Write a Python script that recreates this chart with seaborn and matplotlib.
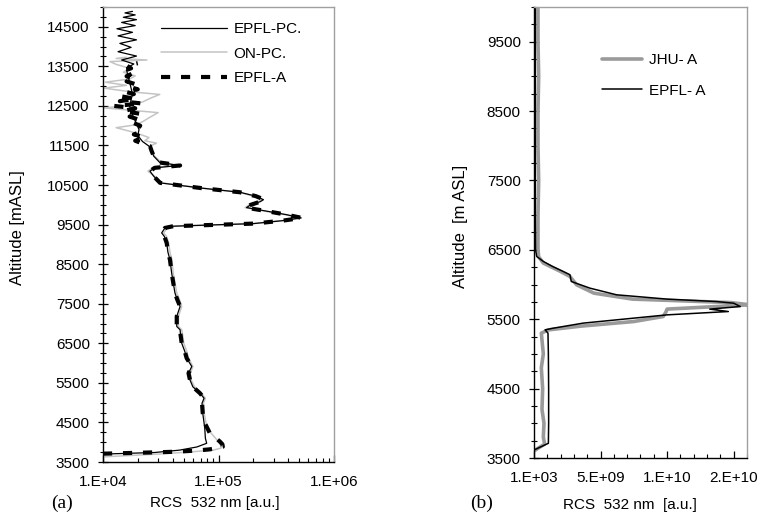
import numpy as np
import pandas as pd
import matplotlib
matplotlib.use("Agg")
import matplotlib.pyplot as plt
from matplotlib.ticker import MultipleLocator, LogLocator, FixedLocator, FixedFormatter, NullFormatter
import seaborn as sns

# ---------------- data: panel (a) ----------------
alt_epfl_a = [3710, 3740, 3760, 3790, 3820, 3860, 3887, 3950, 4014, 4234, 4487, 4740,
              4985, 5112, 5240, 5400, 5576, 5745, 5914, 6125, 6300, 6505, 6700, 6842,
              6926, 7180, 7432, 7600, 7770, 8024, 8277, 8614, 8800, 9037, 9200, 9290,
              9416, 9460, 9525, 9600, 9669, 9750, 9850, 9930, 10000, 10080, 10130,
              10220, 10318, 10427, 10555, 10650, 10722, 10850, 10935, 10995, 11070,
              11230, 11355, 11483,
              11550, 11620, 11700, 11780, 11850, 11930, 12000, 12080, 12150, 12230,
              12300, 12370, 12440, 12500, 12560, 12620, 12680, 12740, 12800, 12860,
              12920, 12980, 13050, 13120, 13180, 13250, 13320, 13400, 13450, 13520, 13580]
rcs_epfl_a = [1.0e4, 2.5e4, 4.35e4, 6.5e4, 8.4e4, 1.0e5, 1.09e5, 1.08e5, 1.03e5, 8.4e4, 7.6e4, 7.3e4,
              7.2e4, 7.5e4, 6.9e4, 6.0e4, 5.66e4, 5.5e4, 5.87e4, 5.3e4, 5.1e4, 4.8e4, 4.7e4, 4.65e4,
              4.35e4, 4.35e4, 4.65e4, 4.4e4, 4.2e4, 4.06e4, 3.93e4, 3.8e4, 3.65e4, 3.56e4, 3.4e4, 3.22e4,
              3.44e4, 4.06e4, 2.0e5, 3.6e5, 5.27e5, 3.9e5, 2.5e5, 1.72e5, 1.9e5, 2.3e5, 2.5e5,
              2.1e5, 1.53e5, 6.9e4, 3.12e4, 2.9e4, 2.75e4, 2.55e4, 2.8e4, 4.65e4, 3.1e4,
              2.75e4, 2.64e4, 2.55e4,
              2.2e4, 1.9e4, 2.3e4, 1.85e4, 2.15e4, 2.0e4, 2.1e4, 1.8e4, 2.05e4, 1.7e4,
              2.1e4, 1.5e4, 1.9e4, 1.25e4, 2.2e4, 1.4e4, 1.9e4, 1.45e4, 1.85e4, 1.55e4,
              2.0e4, 1.7e4, 1.9e4, 1.6e4, 1.85e4, 1.6e4, 1.8e4, 1.55e4, 1.75e4, 1.6e4, 2.0e4]

alt_epfl_pc = [3700, 3740, 3800, 3880, 3973, 4100, 4360, 4740,
               4985, 5112, 5240, 5400, 5576, 5745, 5914, 6125, 6300, 6505, 6700, 6842,
               6926, 7180, 7432, 7600, 7770, 8024, 8277, 8614, 8800, 9037, 9200, 9290,
               9416, 9460, 9525, 9600, 9669, 9750, 9850, 9930, 10000, 10080, 10130,
               10220, 10318, 10427, 10555, 10650, 10722, 10850, 10935, 10995, 11070,
               11230, 11355, 11483, 11600, 11750, 11900, 12050, 12200, 12350, 12500,
               12650, 12800, 12950, 13100, 13250, 13400, 13480,
               13560, 13660, 13760, 13870, 13980, 14080, 14170, 14270, 14360, 14450,
               14530, 14610, 14680, 14740, 14800, 14850, 14890]
rcs_epfl_pc = [1.0e4, 2.8e4, 4.6e4, 6.5e4, 7.9e4, 7.7e4, 7.6e4, 7.3e4,
               7.2e4, 7.5e4, 6.9e4, 6.0e4, 5.66e4, 5.5e4, 5.87e4, 5.3e4, 5.1e4, 4.8e4, 4.7e4, 4.65e4,
               4.35e4, 4.35e4, 4.65e4, 4.4e4, 4.2e4, 4.06e4, 3.93e4, 3.8e4, 3.65e4, 3.56e4, 3.4e4, 3.22e4,
               3.44e4, 4.06e4, 2.0e5, 3.6e5, 5.2e5, 3.9e5, 2.5e5, 1.75e5, 1.9e5, 2.3e5, 2.45e5,
               2.1e5, 1.53e5, 6.9e4, 3.12e4, 2.9e4, 2.75e4, 2.55e4, 2.8e4, 4.6e4, 3.1e4,
               2.75e4, 2.64e4, 2.5e4, 2.2e4, 2.0e4, 2.05e4, 1.95e4, 1.85e4, 1.75e4, 1.7e4,
               1.75e4, 1.8e4, 1.75e4, 1.7e4, 1.65e4, 1.6e4, 1.65e4,
               1.85e4, 1.45e4, 1.95e4, 1.35e4, 1.75e4, 1.4e4, 1.95e4, 1.35e4, 1.8e4, 1.32e4,
               1.9e4, 1.45e4, 1.95e4, 1.5e4, 1.9e4, 1.55e4, 1.8e4]

alt_on_pc = [3630, 3700, 3760, 3800, 3850, 3900, 4014, 4234, 4487, 4740,
             4985, 5112, 5240, 5400, 5576, 5745, 5914, 6125, 6300, 6505, 6700, 6842,
             6926, 7180, 7432, 7600, 7770, 8024, 8277, 8614, 8800, 9037, 9200, 9290,
             9416, 9460, 9525, 9600, 9669, 9750, 9850, 9930, 10000, 10080, 10130,
             10220, 10318, 10427, 10555, 10650, 10722, 10850, 10935, 10995, 11070,
             11230, 11355, 11483,
             11560, 11620, 11700, 11780, 11860, 11950, 12020, 12100, 12200, 12330,
             12400, 12450, 12520, 12600, 12700, 12790, 12860, 12950, 13020, 13100,
             13180, 13260, 13350, 13450, 13550, 13620, 13660, 13700, 13730]
rcs_on_pc = [1.0e4, 3.0e4, 6.0e4, 9.0e4, 1.05e5, 1.06e5, 1.0e5, 8.6e4, 7.8e4, 7.5e4,
             7.4e4, 7.7e4, 7.1e4, 6.2e4, 5.8e4, 5.7e4, 6.0e4, 5.5e4, 5.3e4, 5.0e4, 4.9e4, 4.8e4,
             4.5e4, 4.5e4, 4.8e4, 4.6e4, 4.35e4, 4.2e4, 4.05e4, 3.95e4, 3.8e4, 3.7e4, 3.55e4, 3.35e4,
             3.6e4, 4.2e4, 2.0e5, 3.5e5, 5.1e5, 3.8e5, 2.4e5, 1.7e5, 1.85e5, 2.2e5, 2.4e5,
             2.0e5, 1.5e5, 7.0e4, 3.2e4, 3.0e4, 2.8e4, 2.45e4, 2.7e4, 4.3e4, 3.2e4,
             2.8e4, 2.7e4, 2.55e4,
             2.9e4, 2.3e4, 2.5e4, 2.1e4, 1.7e4, 1.3e4, 1.9e4, 2.2e4, 2.5e4, 3.0e4,
             1.6e4, 1.02e4, 1.8e4, 2.2e4, 2.6e4, 3.1e4, 1.7e4, 1.02e4, 1.6e4, 1.05e4,
             1.7e4, 1.9e4, 1.5e4, 1.7e4, 1.3e4, 1.15e4, 2.4e4, 1.3e4, 1.6e4]

# ---------------- data: panel (b) ----------------
alt_b_epfl = [3615, 3660, 3712, 4000, 4500, 5000, 5300, 5347, 5371, 5444, 5563, 5611,
              5646, 5683, 5731, 5755, 5790, 5852, 5948, 6044, 6141, 6188, 6260, 6333,
              6405, 6500, 7000, 8000, 9000, 10000]
rcs_b_epfl = [0.0, 0.5e9, 1.08e9, 1.1e9, 1.1e9, 1.08e9, 1.05e9, 0.83e9, 1.45e9, 3.7e9, 1.0e10, 1.46e10,
              1.32e10, 1.55e10, 1.5e10, 1.37e10, 1.0e10, 6.2e9, 4.2e9, 2.8e9, 2.7e9, 2.2e9, 1.4e9, 0.7e9,
              0.2e9, 0.12e9, 0.1e9, 0.1e9, 0.1e9, 0.1e9]

alt_b_jhu = [3600, 3640, 3700, 3800, 4000, 4200, 4500, 4800, 5000, 5200, 5300, 5347,
             5400, 5467, 5539, 5600, 5646, 5708, 5740, 5790, 5876, 5996, 6116, 6188,
             6309, 6400, 6500, 7000, 7500, 8000, 8500, 9000, 9500, 10000]
rcs_b_jhu = [0.0, 0.3e9, 0.8e9, 0.7e9, 0.75e9, 0.6e9, 0.65e9, 0.55e9, 0.7e9, 0.6e9, 0.55e9, 1.1e9,
             3.5e9, 7.5e9, 9.7e9, 9.9e9, 1.0e10, 1.62e10, 1.48e10, 7.4e9, 4.5e9, 3.2e9, 2.7e9, 2.0e9,
             0.7e9, 0.35e9, 0.3e9, 0.3e9, 0.35e9, 0.3e9, 0.3e9, 0.35e9, 0.3e9, 0.3e9]

yticks_a = [3500, 4500, 5500, 6500, 7500, 8500, 9500, 10500, 11500, 12500, 13500, 14500]
xticks_a = [1e4, 1e5, 1e6]
xticklabels_a = ["1.E+04", "1.E+05", "1.E+06"]
yticks_b = [3500, 4500, 5500, 6500, 7500, 8500, 9500]
xticks_b = [1e3, 5e9, 1e10, 1.5e10]
xticklabels_b = ["1.E+03", "5.E+09", "1.E+10", "2.E+10"]

# ---------------- style ----------------
sns.set_theme(style="white")
plt.rcParams["font.family"] = ["Liberation Sans", "DejaVu Sans"]
FS = 11
plt.rcParams.update({
    "font.size": FS,
    "text.color": "black",
    "axes.labelcolor": "black",
    "xtick.color": "black",
    "ytick.color": "black",
    "xtick.labelcolor": "black",
    "ytick.labelcolor": "black",
    "legend.labelcolor": "black",
})

W, H = 758, 518
fig = plt.figure(figsize=(W / 100, H / 100), dpi=100)
fig.patch.set_facecolor("white")

def fx(px):
    return px / W

def fy(py):
    return 1 - py / H

axa = fig.add_axes([fx(103), fy(462), fx(334) - fx(103), fy(7) - fy(462)])
axb = fig.add_axes([fx(534), fy(458), fx(747) - fx(534), fy(7) - fy(458)])

df_pc = pd.DataFrame({"alt": alt_epfl_pc, "rcs": rcs_epfl_pc})
df_on = pd.DataFrame({"alt": alt_on_pc, "rcs": rcs_on_pc})
df_a = pd.DataFrame({"alt": alt_epfl_a, "rcs": rcs_epfl_a})

sns.lineplot(data=df_on, x="rcs", y="alt", sort=False, estimator=None, ax=axa,
             color="#c4c4c4", linewidth=1.1, label="ON-PC.")
sns.lineplot(data=df_a, x="rcs", y="alt", sort=False, estimator=None, ax=axa,
             color="black", linewidth=3.0, label="EPFL-A")
axa.lines[-1].set_dashes([2.2, 2.6])
sns.lineplot(data=df_pc, x="rcs", y="alt", sort=False, estimator=None, ax=axa,
             color="black", linewidth=0.9, label="EPFL-PC.")

df_bj = pd.DataFrame({"alt": alt_b_jhu, "rcs": rcs_b_jhu})
df_be = pd.DataFrame({"alt": alt_b_epfl, "rcs": rcs_b_epfl})
sns.lineplot(data=df_bj, x="rcs", y="alt", sort=False, estimator=None, ax=axb,
             color="#9a9a9a", linewidth=2.6, label="JHU- A")
sns.lineplot(data=df_be, x="rcs", y="alt", sort=False, estimator=None, ax=axb,
             color="black", linewidth=1.1, label="EPFL- A")

# axes (a)
axa.set_xscale("log")
axa.set_xlim(1e4, 1e6)
axa.set_ylim(3500, 15000)
axa.xaxis.set_major_locator(FixedLocator(xticks_a))
axa.xaxis.set_major_formatter(FixedFormatter(xticklabels_a))
axa.xaxis.set_minor_locator(LogLocator(base=10, subs=np.arange(2, 10)))
axa.xaxis.set_minor_formatter(NullFormatter())
axa.yaxis.set_major_locator(FixedLocator(yticks_a))
axa.yaxis.set_minor_locator(MultipleLocator(250))

# axes (b)
axb.set_xlim(1e3, 1.6e10)
axb.set_ylim(3500, 10000)
axb.xaxis.set_major_locator(FixedLocator(xticks_b))
axb.xaxis.set_major_formatter(FixedFormatter(xticklabels_b))
axb.xaxis.set_minor_locator(MultipleLocator(1e9))
axb.yaxis.set_major_locator(FixedLocator(yticks_b))
axb.yaxis.set_minor_locator(MultipleLocator(250))

for ax in (axa, axb):
    ax.set_xlabel("")
    ax.set_ylabel("")
    ax.set_facecolor("white")
    for s in ("left", "bottom"):
        ax.spines[s].set_color("black")
        ax.spines[s].set_linewidth(1.0)
    for s in ("top", "right"):
        ax.spines[s].set_color("#a0a0a0")
        ax.spines[s].set_linewidth(1.0)
    ax.tick_params(axis="y", which="major", direction="inout", length=7, width=0.9,
                   color="black", labelcolor="black", labelsize=FS, pad=6, left=True, right=False)
    ax.tick_params(axis="y", which="minor", direction="inout", length=5, width=0.8,
                   color="black", left=True, right=False)
    ax.tick_params(axis="x", which="major", direction="in", length=5, width=0.9,
                   color="black", labelcolor="black", labelsize=FS, pad=9, bottom=True, top=False)
    ax.tick_params(axis="x", which="minor", direction="in", length=3, width=0.8,
                   color="black", bottom=True, top=False)

# legends
ha, la = axa.get_legend_handles_labels()
order = [la.index("EPFL-PC."), la.index("ON-PC."), la.index("EPFL-A")]
axa.legend([ha[i] for i in order], [la[i] for i in order], loc="upper left",
           bbox_to_anchor=(fx(161), fy(22)), bbox_transform=fig.transFigure,
           frameon=False, fontsize=FS, handlelength=4.3, handletextpad=0.45,
           labelspacing=0.7, borderpad=0, borderaxespad=0, labelcolor="black")
hb, lb = axb.get_legend_handles_labels()
axb.legend(hb, lb, loc="upper left",
           bbox_to_anchor=(fx(602), fy(53)), bbox_transform=fig.transFigure,
           frameon=False, fontsize=FS, handlelength=2.6, handletextpad=0.45,
           labelspacing=1.1, borderpad=0, borderaxespad=0, labelcolor="black")

# labels
fig.text(fx(18), fy(228), "Altitude [mASL]", rotation=90, ha="center", va="center",
         fontsize=FS + 1, color="black")
fig.text(fx(460), fy(226), "Altitude  [m ASL]", rotation=90, ha="center", va="center",
         fontsize=FS + 1, color="black")
fig.text(fx(215), fy(503), "RCS  532 nm [a.u.]", ha="center", va="center", fontsize=FS, color="black")
fig.text(fx(630), fy(505), "RCS  532 nm  [a.u.]", ha="center", va="center", fontsize=FS, color="black")
fig.text(fx(62), fy(503), "(a)", ha="center", va="center", fontsize=14, color="black",
         family=["Liberation Serif", "DejaVu Serif"])
fig.text(fx(482), fy(503), "(b)", ha="center", va="center", fontsize=14, color="black",
         family=["Liberation Serif", "DejaVu Serif"])

fig.savefig("out.png", dpi=100, facecolor="white")
